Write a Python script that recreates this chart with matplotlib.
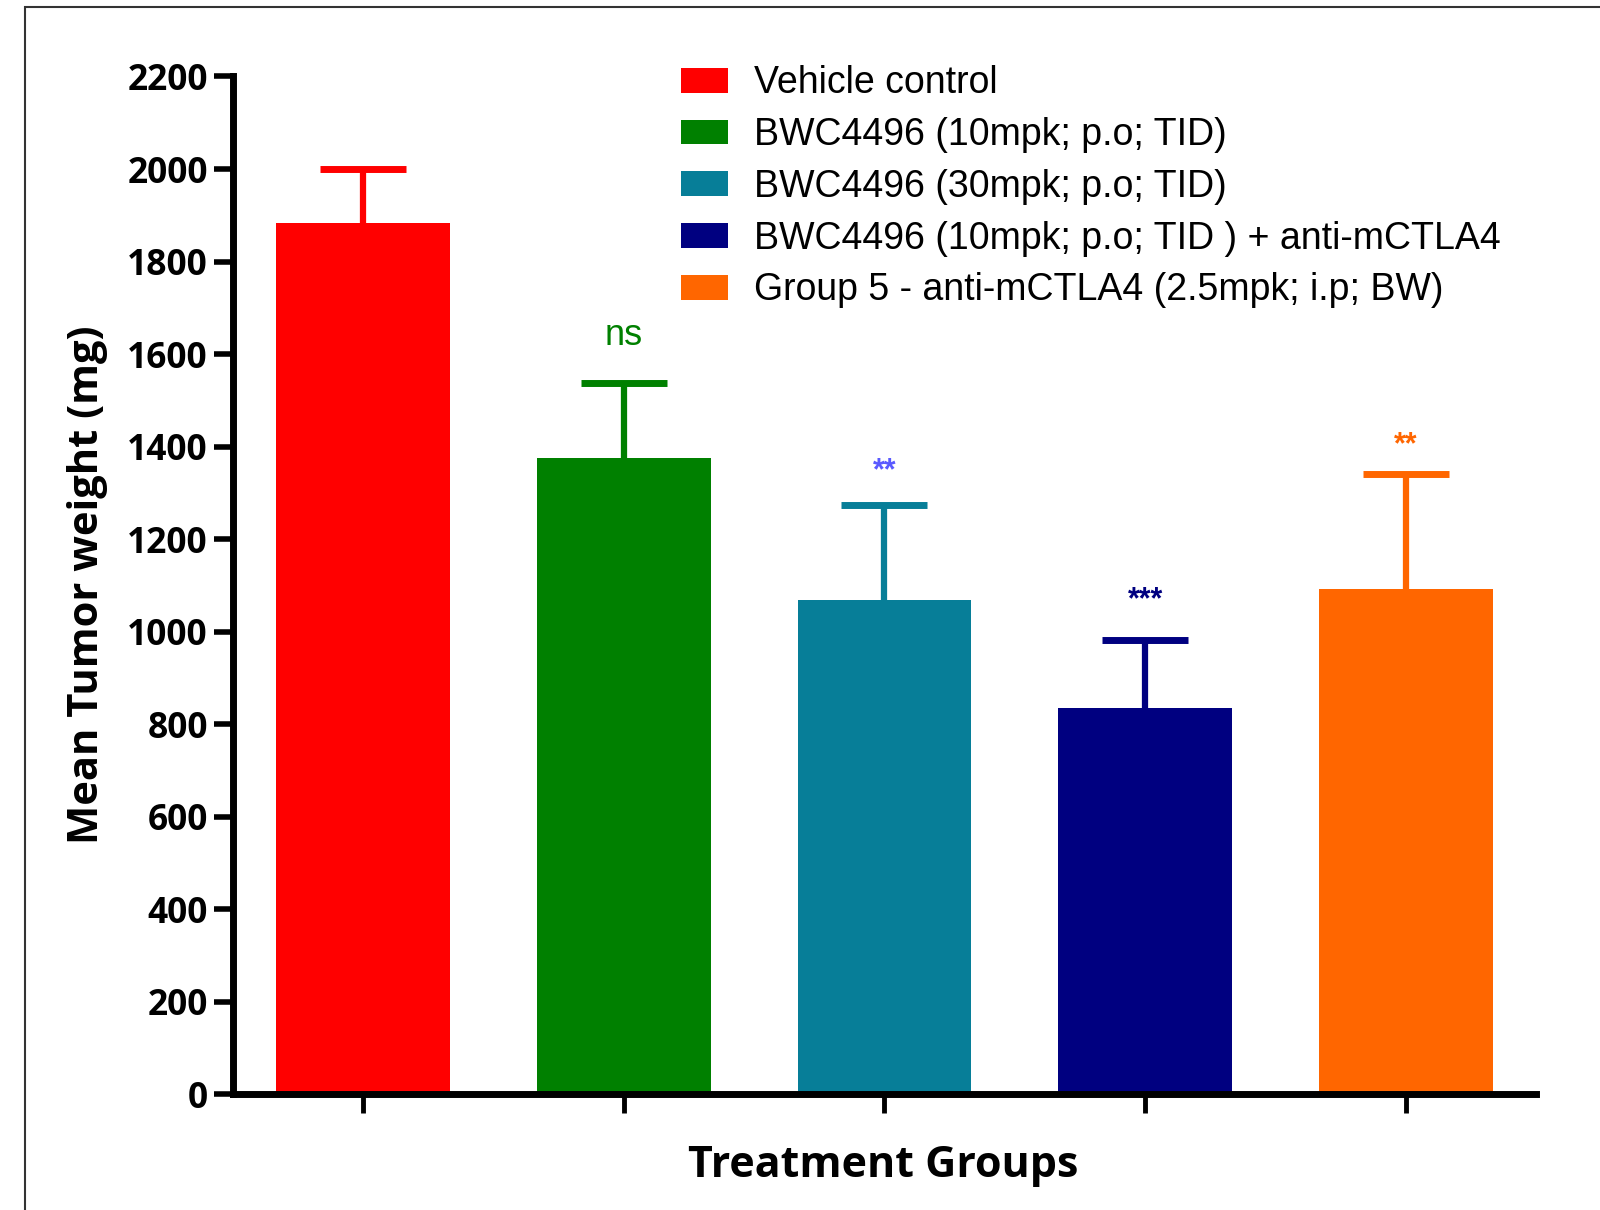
import matplotlib
matplotlib.use("Agg")
import matplotlib.pyplot as plt
from matplotlib.patches import Rectangle, Patch

groups = ["Vehicle control",
          "BWC4496 (10mpk; p.o; TID)",
          "BWC4496 (30mpk; p.o; TID)",
          "BWC4496 (10mpk; p.o; TID ) + anti-mCTLA4",
          "Group 5 - anti-mCTLA4 (2.5mpk; i.p; BW)"]
means = [1883, 1376, 1069, 836, 1093]
sems = [117, 161, 205, 147, 247]
colors = ["#ff0000", "#008000", "#077e98", "#000080", "#ff6600"]
sig_labels = ["", "ns", "**", "***", "**"]
sig_y = [None, 1641, 1347, 1068, 1404]
sig_colors = ["#000000", "#008000", "#5a5aff", "#000080", "#ff6600"]
yticks = [0, 200, 400, 600, 800, 1000, 1200, 1400, 1600, 1800, 2000, 2200]

fig = plt.figure(figsize=(16, 12.1), dpi=100)
ax = fig.add_axes([0.1456, 0.0955, 0.8144, 0.8413])

x = list(range(len(means)))
for i in x:
    ax.bar(i, means[i], width=0.667, color=colors[i], zorder=2)
    ax.vlines(i, means[i], means[i] + sems[i], color=colors[i],
              linewidth=4.5, zorder=1)
    ax.plot([i], [means[i] + sems[i]], marker="_", markersize=62,
            markeredgewidth=5, color=colors[i], zorder=1)
    if sig_labels[i]:
        fs = 26 if sig_labels[i] == "ns" else 22
        ax.text(i, sig_y[i], sig_labels[i], color=sig_colors[i], ha="center",
                va="center", fontsize=fs, family="Liberation Sans",
                fontweight="normal" if sig_labels[i] == "ns" else "bold")

ax.set_xlim(-0.5, 4.5)
ax.set_ylim(0, 2200)
ax.set_yticks(yticks)
ax.set_yticklabels([str(v) for v in yticks], fontsize=25.5, fontweight="bold",
                   family="Open Sans")
ax.set_xticks(x)
ax.set_xticklabels([])
for s in ["top", "right"]:
    ax.spines[s].set_visible(False)
for s in ["left", "bottom"]:
    ax.spines[s].set_linewidth(5)
ax.tick_params(axis="y", length=14, width=4, pad=4)
ax.tick_params(axis="x", length=14, width=3.5)

fig.text(0.0545, 0.5165, "Mean Tumor weight (mg)", rotation=90, ha="center",
         va="center", fontsize=30, fontweight="bold", family="Open Sans")
fig.text(0.5523, 0.037, "Treatment Groups", ha="center", va="center",
         fontsize=31, fontweight="bold", family="Open Sans")

handles = [Patch(facecolor=c, edgecolor="none") for c in colors]
ax.legend(handles, groups, loc="upper left", bbox_to_anchor=(0.4256, 0.946),
          bbox_transform=fig.transFigure, frameon=False,
          prop={"family": "Liberation Sans", "size": 27},
          handlelength=1.25, handleheight=0.64, handletextpad=0.7,
          labelspacing=0.42, borderpad=0, borderaxespad=0)

fig.patches.append(Rectangle((25 / 1600, -0.1), 1.2, 1.1 - 7 / 1210,
                             transform=fig.transFigure, fill=False,
                             edgecolor="#333333", linewidth=1.5))

fig.savefig("out.png", dpi=100)
